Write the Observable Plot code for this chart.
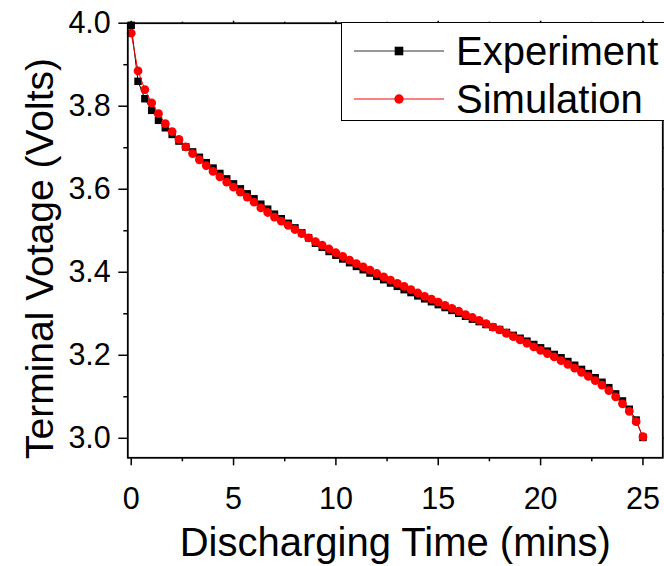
<!DOCTYPE html>
<html>
<head>
<meta charset="utf-8">
<script src="https://cdn.jsdelivr.net/npm/d3@7"></script>
<script src="https://cdn.jsdelivr.net/npm/@observablehq/plot@0.6"></script>
<style>
  html, body { margin: 0; padding: 0; background: #fff; overflow: hidden; }
  #wrap { position: relative; width: 664px; height: 566px; overflow: hidden; font-family: "Liberation Sans", Arial, sans-serif; }
  #legend { position: absolute; left: 341px; top: 22px; width: 340px; height: 99px; border: 1.2px solid #000; background: #fff; box-sizing: border-box; }
  .row { position: absolute; left: 0; height: 40px; }
  .row svg { position: absolute; left: 12px; top: 0; }
  .row span { position: absolute; left: 114px; top: 0; font-size: 40px; line-height: 40px; white-space: nowrap; color: #000; }
</style>
</head>
<body>
<div id="wrap">
  <div id="chart"></div>
  <div id="legend"></div>
</div>
<script>
// Discharging time (mins)
const time = [0, 0.333, 0.667, 1, 1.333, 1.667, 2, 2.333, 2.667, 3, 3.333, 3.667, 4, 4.333, 4.667, 5, 5.333, 5.667, 6, 6.333,
  6.667, 7, 7.333, 7.667, 8, 8.333, 8.667, 9, 9.333, 9.667, 10, 10.333, 10.667, 11, 11.333, 11.667, 12, 12.333, 12.667, 13,
  13.333, 13.667, 14, 14.333, 14.667, 15, 15.333, 15.667, 16, 16.333, 16.667, 17, 17.333, 17.667, 18, 18.333, 18.667, 19, 19.333, 19.667,
  20, 20.333, 20.667, 21, 21.333, 21.667, 22, 22.333, 22.667, 23, 23.333, 23.667, 24, 24.333, 24.667, 25];

// Terminal voltage (Volts)
const experiment = [3.995, 3.860, 3.818, 3.790, 3.766, 3.748, 3.732, 3.716, 3.702, 3.690,
  3.677, 3.664, 3.651, 3.638, 3.625, 3.613, 3.601, 3.589, 3.577, 3.564,
  3.552, 3.540, 3.529, 3.518, 3.507, 3.495, 3.483, 3.470, 3.460, 3.450,
  3.441, 3.432, 3.423, 3.414, 3.406, 3.398, 3.390, 3.382, 3.374, 3.366,
  3.358, 3.351, 3.343, 3.336, 3.329, 3.322, 3.315, 3.308, 3.301, 3.294,
  3.287, 3.281, 3.274, 3.268, 3.262, 3.255, 3.248, 3.241, 3.234, 3.226,
  3.218, 3.210, 3.202, 3.194, 3.185, 3.176, 3.166, 3.156, 3.146, 3.135,
  3.122, 3.107, 3.090, 3.070, 3.044, 3.002];

const simulation = [3.976, 3.885, 3.840, 3.808, 3.782, 3.758, 3.739, 3.720, 3.702, 3.686,
  3.671, 3.657, 3.643, 3.630, 3.617, 3.605, 3.593, 3.581, 3.569, 3.555,
  3.544, 3.533, 3.523, 3.513, 3.503, 3.493, 3.483, 3.474, 3.465, 3.456,
  3.447, 3.438, 3.429, 3.421, 3.413, 3.405, 3.397, 3.389, 3.381, 3.373,
  3.366, 3.358, 3.350, 3.342, 3.335, 3.328, 3.320, 3.313, 3.306, 3.298,
  3.291, 3.284, 3.276, 3.268, 3.261, 3.253, 3.245, 3.237, 3.229, 3.220,
  3.212, 3.204, 3.196, 3.187, 3.178, 3.169, 3.159, 3.149, 3.139, 3.128,
  3.115, 3.100, 3.083, 3.065, 3.040, 3.004];

const xMajorTicks = [0, 5, 10, 15, 20, 25];
const xMinorTicks = [2.5, 7.5, 12.5, 17.5, 22.5];
const yMajorTicks = [3.0, 3.2, 3.4, 3.6, 3.8, 4.0];
const yMinorTicks = [3.1, 3.3, 3.5, 3.7, 3.9];
const xTitle = "Discharging Time (mins)";
const yTitle = "Terminal Votage (Volts)";
const seriesNames = ["Experiment", "Simulation"];

const expData = time.map((t, i) => ({t, v: experiment[i]}));
const simData = time.map((t, i) => ({t, v: simulation[i]}));

const font = "Liberation Sans, Arial, sans-serif";

const chart = Plot.plot({
  width: 664,
  height: 566,
  marginLeft: 127.3,
  marginRight: 1.7,
  marginTop: 22.7,
  marginBottom: 108.7,
  style: {fontFamily: font, background: "#fff", color: "#000", overflow: "visible"},
  x: {domain: [-0.166, 25.97]},
  y: {domain: [2.953, 4.0]},
  marks: [
    // data
    Plot.line(expData, {x: "t", y: "v", stroke: "#000", strokeWidth: 1}),
    Plot.dot(expData, {x: "t", y: "v", symbol: "square", r: 4.2, fill: "#000", stroke: "none"}),
    Plot.line(simData, {x: "t", y: "v", stroke: "#ff0000", strokeWidth: 1}),
    Plot.dot(simData, {x: "t", y: "v", symbol: "circle", r: 4.4, fill: "#ff0000", stroke: "none"}),
    // frame
    Plot.frame({stroke: "#000", strokeWidth: 1.8}),
    // bottom axis
    Plot.axisX({ticks: xMajorTicks, tickSize: 8, tickPadding: 21.5, fontSize: 30.5, label: null, strokeWidth: 1.5, tickFormat: d => String(d)}),
    Plot.axisX({ticks: xMinorTicks, tickSize: 4, text: null, label: null, strokeWidth: 1.5}),
    // top mirror ticks
    Plot.axisX({anchor: "top", ticks: xMajorTicks, tickSize: 3, text: null, label: null, strokeWidth: 1.5}),
    Plot.axisX({anchor: "top", ticks: xMinorTicks, tickSize: 2, text: null, label: null, strokeWidth: 1.5}),
    // left axis
    Plot.axisY({ticks: yMajorTicks, tickSize: 9, tickPadding: 8, fontSize: 30.5, label: null, strokeWidth: 1.5, tickFormat: d => d.toFixed(1)}),
    Plot.axisY({ticks: yMinorTicks, tickSize: 4, text: null, label: null, strokeWidth: 1.5}),
    // right mirror ticks
    Plot.axisY({anchor: "right", ticks: yMajorTicks.concat(yMinorTicks), tickSize: 3, text: null, label: null, strokeWidth: 1.5}),
    // axis titles
    Plot.text([xTitle], {frameAnchor: "bottom", text: d => d, dy: 85, fontSize: 40, lineAnchor: "middle", textAnchor: "middle", fill: "#000"}),
    Plot.text([yTitle], {frameAnchor: "left", text: d => d, rotate: -90, dx: -87, dy: 18, fontSize: 39, lineAnchor: "middle", textAnchor: "middle", fill: "#000"})
  ]
});
document.getElementById("chart").appendChild(chart);

// legend
const legend = document.getElementById("legend");
const rows = [
  {name: seriesNames[0], color: "#000", lineColor: "#333", symbol: "square", top: 8},
  {name: seriesNames[1], color: "#ff0000", lineColor: "#ff0000", symbol: "circle", top: 56}
];
const ns = "http://www.w3.org/2000/svg";
for (const r of rows) {
  const row = document.createElement("div");
  row.className = "row";
  row.style.top = r.top + "px";
  row.style.width = "330px";
  const svg = document.createElementNS(ns, "svg");
  svg.setAttribute("width", 92);
  svg.setAttribute("height", 40);
  const line = document.createElementNS(ns, "line");
  line.setAttribute("x1", 0); line.setAttribute("x2", 90);
  line.setAttribute("y1", 20); line.setAttribute("y2", 20);
  line.setAttribute("stroke", r.lineColor); line.setAttribute("stroke-width", 1);
  svg.appendChild(line);
  let m;
  if (r.symbol === "square") {
    m = document.createElementNS(ns, "rect");
    m.setAttribute("x", 45 - 4.3); m.setAttribute("y", 20 - 4.3);
    m.setAttribute("width", 8.6); m.setAttribute("height", 8.6);
  } else {
    m = document.createElementNS(ns, "circle");
    m.setAttribute("cx", 45); m.setAttribute("cy", 20); m.setAttribute("r", 4.7);
  }
  m.setAttribute("fill", r.color);
  svg.appendChild(m);
  row.appendChild(svg);
  const span = document.createElement("span");
  span.textContent = r.name;
  row.appendChild(span);
  legend.appendChild(row);
}
</script>
</body>
</html>
